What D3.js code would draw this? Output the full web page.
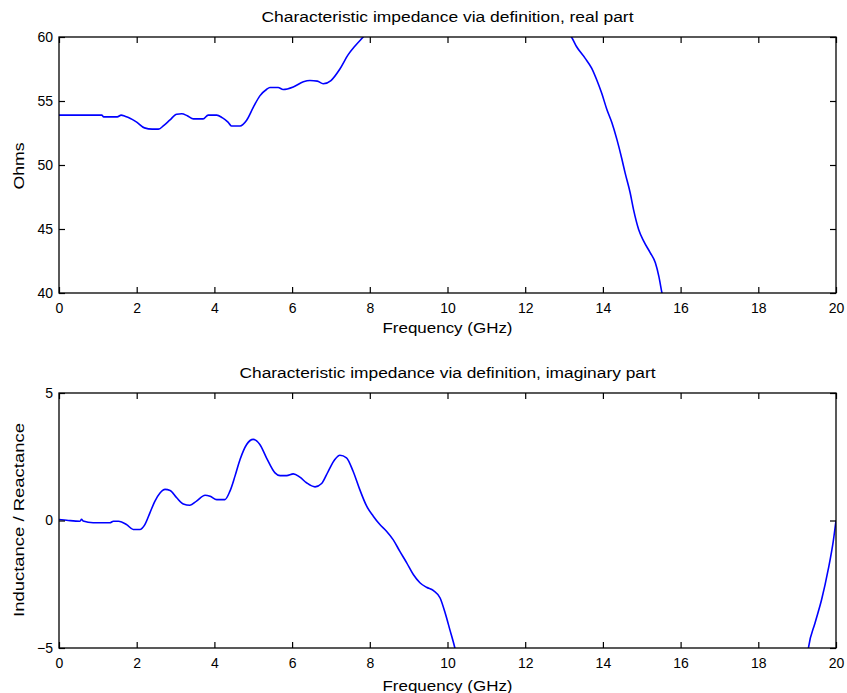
<!DOCTYPE html>
<html><head><meta charset="utf-8">
<script src="https://cdn.jsdelivr.net/npm/d3@7"></script>
<style>body{margin:0;background:#fff}svg{display:block}text{font-family:"Liberation Sans",Arial,sans-serif;fill:#000}</style>
</head><body>
<svg id="c" width="847" height="693"></svg>
<script>
const xTicks = [0,2,4,6,8,10,12,14,16,18,20];
const realTicks = [40,45,50,55,60];
const imagTicks = [-5,0,5];
const titles = ["Characteristic impedance via definition, real part","Characteristic impedance via definition, imaginary part"];
const xLabel = "Frequency (GHz)";
const yLabels = ["Ohms","Inductance / Reactance"];

// real part: [GHz, Ohms]; null marks the stretch that lies above the axis
const realFreq = [0,0.5,1.1,1.15,1.5,1.6,1.7,1.8,2.0,2.2,2.4,2.56,2.7,2.85,3.03,3.16,3.3,3.46,3.71,3.84,4.06,4.2,4.35,4.44,4.66,4.83,5.0,5.17,5.34,5.43,5.64,5.77,6.03,6.29,6.46,6.65,6.8,7.0,7.23,7.44,7.62,7.83,7.95,null,13.1,13.19,13.32,13.54,13.71,13.84,13.97,14.1,14.23,14.36,14.49,14.57,14.7,14.79,14.92,15.05,15.22,15.35,15.44,15.52,15.56];
const realVal  = [53.9,53.9,53.9,53.76,53.76,53.9,53.8,53.7,53.35,52.9,52.8,52.8,53.1,53.5,53.97,54.0,53.85,53.6,53.6,53.9,53.9,53.7,53.35,53.05,53.05,53.5,54.5,55.4,55.9,56.05,56.05,55.9,56.1,56.5,56.6,56.55,56.35,56.6,57.5,58.6,59.3,60.0,60.4,null,60.3,60.0,59.26,58.35,57.57,56.66,55.6,54.36,53.32,52.0,50.45,49.4,47.85,46.5,44.97,44.05,43.14,42.36,41.3,40.0,39.4];

// imaginary part
const imagFreq = [0,0.2,0.54,0.58,0.62,0.88,1.31,1.4,1.53,1.74,1.91,2.08,2.21,2.34,2.47,2.6,2.73,2.86,3.03,3.2,3.37,3.54,3.76,3.89,4.06,4.27,4.4,4.53,4.66,4.83,5.0,5.17,5.34,5.56,5.69,5.86,6.03,6.2,6.37,6.59,6.76,6.93,7.1,7.23,7.4,7.57,7.74,7.92,8.09,8.26,8.43,8.6,8.77,8.95,9.12,9.29,9.46,9.64,9.81,9.94,10.06,10.19,10.25,null,19.24,19.29,19.46,19.63,19.8,19.93,20.0];
const imagVal  = [0.04,0.01,-0.03,0.05,-0.02,-0.09,-0.09,-0.03,-0.03,-0.16,-0.35,-0.35,-0.16,0.3,0.76,1.08,1.22,1.18,0.89,0.65,0.6,0.76,0.99,0.95,0.82,0.82,1.15,1.74,2.39,2.98,3.18,2.98,2.46,1.87,1.76,1.76,1.83,1.7,1.48,1.32,1.45,1.93,2.39,2.56,2.46,1.93,1.22,0.56,0.17,-0.16,-0.42,-0.75,-1.2,-1.66,-2.12,-2.44,-2.62,-2.75,-3.04,-3.63,-4.28,-5.0,-5.4,null,-5.6,-5.0,-4.02,-3.1,-1.92,-0.81,0.0];

const svg = d3.select("#c");
const L = 59, R = 836;
const x = d3.scaleLinear().domain([0,20]).range([L,R]);

function panel(i, top, bottom, yDom, yT, fx, fy, tickFmt) {
  const y = d3.scaleLinear().domain(yDom).range([bottom, top]);
  const g = svg.append("g");
  const cid = "clip"+i;
  svg.append("clipPath").attr("id",cid).append("rect")
    .attr("x",L).attr("y",top).attr("width",R-L).attr("height",bottom-top);
  const data = fx.map((f,k)=>[f, fy[k]]);
  g.append("path").datum(data)
    .attr("clip-path","url(#"+cid+")")
    .attr("fill","none").attr("stroke","#0000ff").attr("stroke-width",1.6)
    .attr("d", d3.line().defined(d=>d[0]!==null).curve(d3.curveMonotoneX).x(d=>x(d[0])).y(d=>y(d[1])));
  const tl = 6;
  const bx = g.append("g").attr("transform",`translate(0,${bottom})`)
    .call(d3.axisBottom(x).tickValues(xTicks).tickSize(-tl).tickPadding(10).tickFormat(d3.format("d")));
  const tx = g.append("g").attr("transform",`translate(0,${top})`)
    .call(d3.axisTop(x).tickValues(xTicks).tickSize(-tl).tickFormat(""));
  const ly = g.append("g").attr("transform",`translate(${L},0)`)
    .call(d3.axisLeft(y).tickValues(yT).tickSize(-tl).tickPadding(10).tickFormat(tickFmt));
  const ry = g.append("g").attr("transform",`translate(${R},0)`)
    .call(d3.axisRight(y).tickValues(yT).tickSize(-tl).tickFormat(""));
  [bx,tx,ly,ry].forEach(a=>{
    a.select(".domain").remove();
    a.selectAll("line").attr("stroke","#000").attr("stroke-width",1.2);
    a.selectAll("text").attr("font-size",14).attr("font-family","'Liberation Sans',Arial,sans-serif").attr("fill","#000");
  });
  ly.selectAll("text").attr("dx",4);
  g.append("rect").attr("x",L).attr("y",top).attr("width",R-L).attr("height",bottom-top)
    .attr("fill","none").attr("stroke","#000").attr("stroke-width",1.3);
  return y;
}

panel(0, 37, 293, [40,60], realTicks, realFreq, realVal, d3.format("d"));
panel(1, 393, 648, [-5,5], imagTicks, imagFreq, imagVal, d=> d<0 ? "\u2212"+Math.abs(d) : String(d));

const cx = (L+R)/2;
[[titles[0],22,372],[titles[1],378,416]].forEach(([t,yy,w])=>{
  svg.append("text").attr("x",cx).attr("y",yy).attr("text-anchor","middle").attr("font-size",14)
    .attr("textLength",w).attr("lengthAdjust","spacingAndGlyphs").text(t);
});
[333,691].forEach(yy=>{
  svg.append("text").attr("x",cx).attr("y",yy).attr("text-anchor","middle").attr("font-size",14)
    .attr("textLength",130).attr("lengthAdjust","spacingAndGlyphs").text(xLabel);
});
[[yLabels[0],166,47],[yLabels[1],520,194]].forEach(([t,yy,w])=>{
  svg.append("text").attr("transform",`translate(24,${yy}) rotate(-90)`).attr("text-anchor","middle").attr("font-size",14)
    .attr("textLength",w).attr("lengthAdjust","spacingAndGlyphs").text(t);
});
</script>
</body></html>
